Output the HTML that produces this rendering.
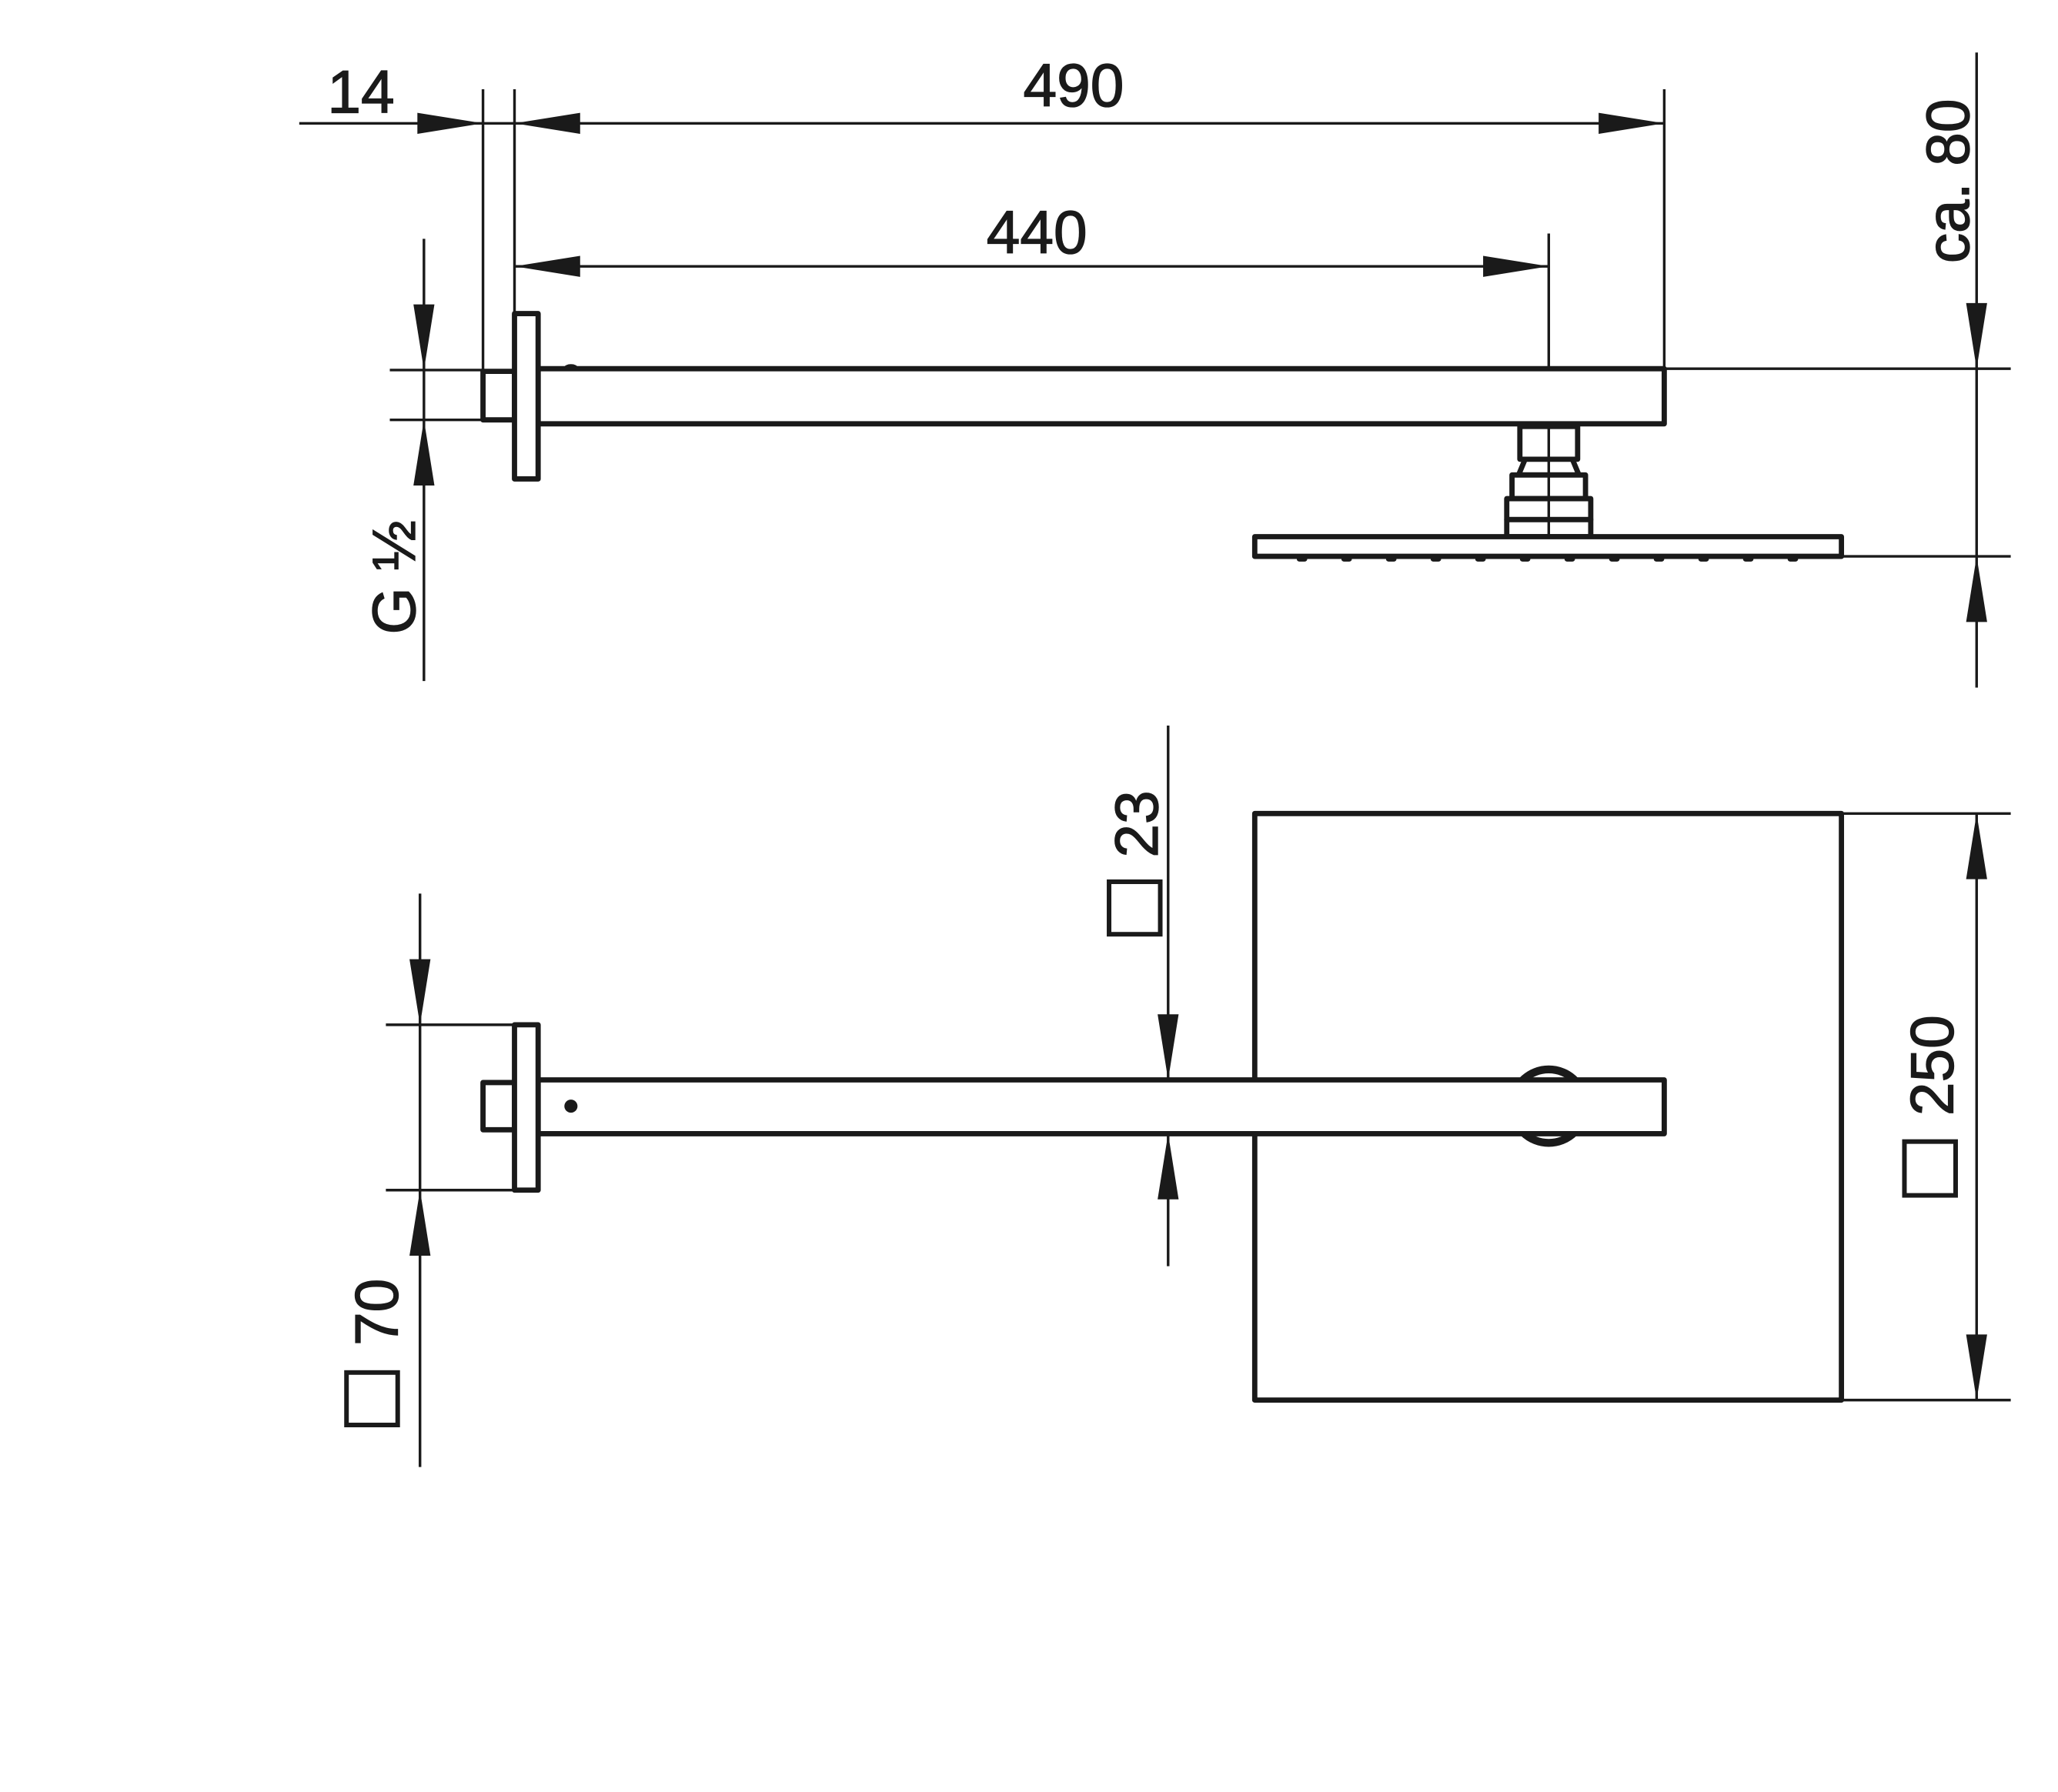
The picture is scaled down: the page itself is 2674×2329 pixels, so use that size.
<!DOCTYPE html>
<html><head><meta charset="utf-8"><style>html,body{margin:0;padding:0;background:#fff}svg{display:block}</style></head>
<body>
<svg width="2674" height="2329" viewBox="0 0 1568 1365.7" xmlns="http://www.w3.org/2000/svg">
<defs>
<g id="ar"><polygon points="0,0 -50,-8 -50,8" fill="#1a1a1a"/></g>
<g id="nz"><rect x="-4" y="424" width="8" height="4" rx="2" fill="#1a1a1a"/></g>
</defs>
<rect width="1568" height="1366" fill="#fff"/>
<g stroke="#1a1a1a" fill="none" stroke-width="2">
<line x1="228" y1="94" x2="1268" y2="94"/>
<line x1="368" y1="68" x2="368" y2="283"/>
<line x1="392" y1="68" x2="392" y2="240"/>
<line x1="1268" y1="68" x2="1268" y2="281"/>
<line x1="392" y1="203" x2="1180" y2="203"/>
<line x1="1180" y1="178" x2="1180" y2="409"/>
<line x1="323" y1="182" x2="323" y2="519"/>
<line x1="297" y1="282" x2="368" y2="282"/>
<line x1="297" y1="320" x2="368" y2="320"/>
<line x1="1506" y1="40" x2="1506" y2="524"/>
<line x1="1268" y1="281" x2="1532" y2="281"/>
<line x1="1403" y1="424" x2="1532" y2="424"/>
<line x1="320" y1="681" x2="320" y2="1118"/>
<line x1="294" y1="781" x2="392" y2="781"/>
<line x1="294" y1="907" x2="392" y2="907"/>
<line x1="890" y1="553" x2="890" y2="965"/>
<line x1="1506" y1="620" x2="1506" y2="1067"/>
<line x1="1403" y1="620" x2="1532" y2="620"/>
<line x1="1403" y1="1067" x2="1532" y2="1067"/>
</g>
<g fill="#1a1a1a">
<use href="#ar" transform="translate(368,94)"/>
<use href="#ar" transform="translate(392,94) rotate(180)"/>
<use href="#ar" transform="translate(1268,94)"/>
<use href="#ar" transform="translate(392,203) rotate(180)"/>
<use href="#ar" transform="translate(1180,203)"/>
<use href="#ar" transform="translate(323,282) rotate(90)"/>
<use href="#ar" transform="translate(323,320) rotate(-90)"/>
<use href="#ar" transform="translate(1506,281) rotate(90)"/>
<use href="#ar" transform="translate(1506,424) rotate(-90)"/>
<use href="#ar" transform="translate(320,781) rotate(90)"/>
<use href="#ar" transform="translate(320,907) rotate(-90)"/>
<use href="#ar" transform="translate(890,823) rotate(90)"/>
<use href="#ar" transform="translate(890,864) rotate(-90)"/>
<use href="#ar" transform="translate(1506,620) rotate(-90)"/>
<use href="#ar" transform="translate(1506,1067) rotate(90)"/>
</g>
<g stroke="#1a1a1a" fill="#fff" stroke-width="4" stroke-linejoin="round">
<rect x="410" y="281" width="858" height="42"/>
<rect x="368" y="283" width="24" height="37"/>
<rect x="392" y="239" width="18" height="126"/>
<rect x="1158" y="325" width="44" height="25"/>
<path d="M1162 350 L1198 350 L1203 362 L1157 362 Z"/>
<rect x="1152" y="362" width="56" height="18"/>
<rect x="1148" y="380" width="64" height="16"/>
<rect x="1148" y="396" width="64" height="13"/>
<rect x="956" y="409" width="447" height="15"/>
<rect x="956" y="620" width="447" height="447"/>
<circle cx="1180" cy="843" r="28" stroke-width="6"/>
<rect x="410" y="823" width="858" height="41"/>
<rect x="368" y="825" width="24" height="36"/>
<rect x="392" y="781" width="18" height="126"/>
</g>
<line x1="1180" y1="325" x2="1180" y2="409" stroke="#1a1a1a" stroke-width="2"/>
<g fill="#1a1a1a">
<circle cx="435" cy="843" r="5"/>
<ellipse cx="435" cy="280" rx="5" ry="2.5"/>
</g>
<use href="#nz" x="992"/><use href="#nz" x="1026"/><use href="#nz" x="1060"/><use href="#nz" x="1094"/>
<use href="#nz" x="1128"/><use href="#nz" x="1162"/><use href="#nz" x="1196"/><use href="#nz" x="1230"/>
<use href="#nz" x="1264"/><use href="#nz" x="1298"/><use href="#nz" x="1332"/><use href="#nz" x="1366"/>
<g fill="none" stroke="#1a1a1a" stroke-width="3.5">
<rect x="264" y="1046" width="39" height="40"/>
<rect x="845" y="672" width="39" height="40"/>
<rect x="1451" y="870" width="39" height="41"/>
</g>
<g font-family="'Liberation Sans', sans-serif" font-size="46" fill="#1a1a1a" stroke="#1a1a1a" stroke-width="0.8" text-anchor="middle">
<text x="275" y="86">14</text>
<text x="818" y="81">490</text>
<text x="790" y="193">440</text>
<text transform="translate(316,440) rotate(-90)">G ½</text>
<text transform="translate(1500,138) rotate(-90)">ca. 80</text>
<text transform="translate(303,1000) rotate(-90)">70</text>
<text transform="translate(882,628) rotate(-90)">23</text>
<text transform="translate(1488,812) rotate(-90)">250</text>
</g>
</svg>
</body></html>
